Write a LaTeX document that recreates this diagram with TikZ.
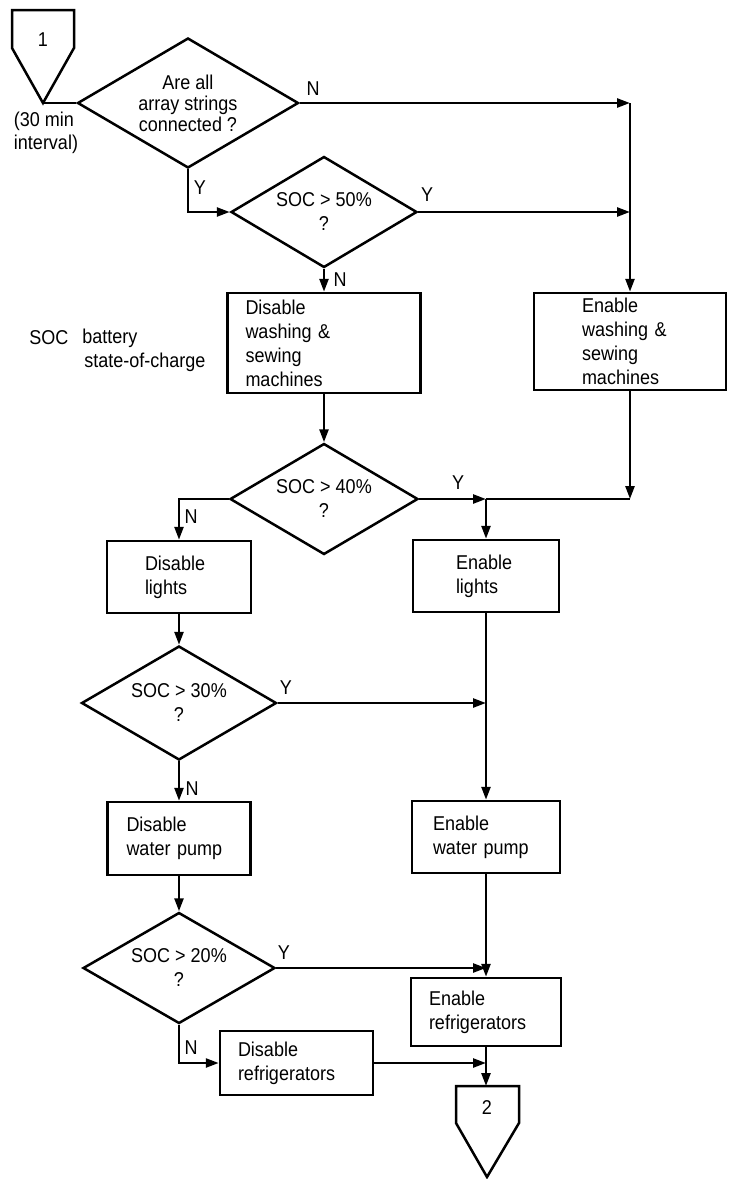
\documentclass[tikz,border=0pt]{standalone}
\usepackage{fontspec}
\setmainfont{Liberation Sans}[FakeStretch=0.9]
\usetikzlibrary{shapes.geometric,arrows.meta}
\begin{document}
\begin{tikzpicture}[x=1pt,y=-1pt,line width=2.5pt,
  every node/.style={font=\fontsize{20}{24}\selectfont},
  box/.style={draw,rectangle,align=left,inner ysep=0pt},
  dia/.style={draw,diamond,align=center,inner sep=0pt,aspect=1.7},
  lbl/.style={inner sep=0pt},
  arr/.style={-{Triangle[length=13pt,width=9pt]}},
  conn/.style={line join=miter}]
\useasboundingbox (0,0) rectangle (729,1179);

% connector 1
\node[lbl] (c1) at (43,40) {1};
\draw[conn] (12,10) -- (74,10) -- (74,48) -- (43,103) -- (12,48) -- cycle;
\coordinate (c1tip) at (43,103);
\node[lbl,align=left,font=\fontsize{20}{23}\selectfont] (iv) at (46,133) {(30 min\\interval)};

% decisions
\node[dia,minimum width=221,minimum height=130,font=\fontsize{20}{21}\selectfont] (D1) at (188,103) {Are all\\array strings\\connected ?};
\node[dia,minimum width=186,minimum height=111] (D2) at (324,212) {SOC > 50\%\\?};
\node[dia,minimum width=188,minimum height=111] (D3) at (324,499) {SOC > 40\%\\?};
\node[dia,minimum width=195,minimum height=114] (D4) at (179,703) {SOC > 30\%\\?};
\node[dia,minimum width=192,minimum height=111] (D5) at (179,968) {SOC > 20\%\\?};

% boxes
\node[box,minimum height=100,text width=157,inner xsep=18] (Dw) at (324,343) {Disable\\washing \&\\ sewing\\ machines};
\node[box,minimum height=97,text width=96,inner xsep=48] (Ew) at (630,341.5) {Enable\\washing \&\\sewing\\machines};
\node[box,minimum height=72,text width=68,inner xsep=38] (Dl) at (179,577) {Disable\\lights};
\node[box,minimum height=72,text width=60,inner xsep=43] (El) at (486,576) {Enable\\lights};
\node[box,minimum height=73,text width=105,inner xsep=19] (Dwp) at (179,838.5) {Disable\\water pump};
\node[box,minimum height=72,text width=106,inner xsep=21] (Ewp) at (486,837) {Enable\\water pump};
\node[box,minimum height=68,text width=114,inner xsep=18] (Er) at (486,1012) {Enable\\refrigerators};
\node[box,minimum height=64,text width=117,inner xsep=18] (Dr) at (296.5,1063) {Disable\\refrigerators};

% legend
\node[lbl,anchor=west] (soc) at (28,338) {SOC};
\node[lbl,anchor=west,align=left] (socd) at (81,350) {battery\\\hspace*{2pt}state-of-charge};

% connector 2
\node[lbl] (c2) at (487,1108) {2};
\draw[conn] (456,1086) -- (519,1086) -- (519,1123) -- (487,1177) -- (456,1123) -- cycle;
\coordinate (c2top) at (486,1086);

% junctions
\coordinate (j1) at (630,103);
\coordinate (j2) at (630,212);
\coordinate (j3) at (630,499);
\coordinate (j3b) at (486,499);
\coordinate (j4) at (486,703);
\coordinate (j5) at (486,968);

% connectors
\draw (c1tip) -- (D1.west);
\draw[arr] (D1.east) -- (j1);
\draw[arr] (j1) -- (Ew.north);
\draw[arr] (D1.south) |- (D2.west);
\draw[arr] (D2.east) -- (j2);
\draw[arr] (D2.south) -- (Dw.north);
\draw[arr] (Dw.south) -- (D3.north);
\draw[arr] (Ew.south) -- (j3);
\draw[arr] (D3.east) -- (j3b);
\draw (j3b) -- (j3);
\draw[arr] (j3b) -- (El.north);
\draw[arr] (D3.west) -| (Dl.north);
\draw[arr] (Dl.south) -- (D4.north);
\draw[arr] (El.south) -- (Ewp.north);
\draw[arr] (D4.east) -- (j4);
\draw[arr] (D4.south) -- (Dwp.north);
\draw[arr] (Dwp.south) -- (D5.north);
\draw[arr] (Ewp.south) -- (Er.north);
\draw[arr] (D5.east) -- (j5);
\draw[arr] (D5.south) |- (Dr.west);
\draw[arr] (Dr.east) -- (Dr.east -| Er.south);
\draw[arr] (Er.south) -- (c2top);

% Y / N labels
\node[lbl] (n1) at (313,89) {N};
\node[lbl] (y1) at (200,188) {Y};
\node[lbl] (y2) at (427,195) {Y};
\node[lbl] (n2) at (340,280) {N};
\node[lbl] (y3) at (458,483) {Y};
\node[lbl] (n3) at (191,517) {N};
\node[lbl] (y4) at (286,688) {Y};
\node[lbl] (n4) at (192,789) {N};
\node[lbl] (y5) at (284,953) {Y};
\node[lbl] (n5) at (191,1048) {N};
\end{tikzpicture}
\end{document}
